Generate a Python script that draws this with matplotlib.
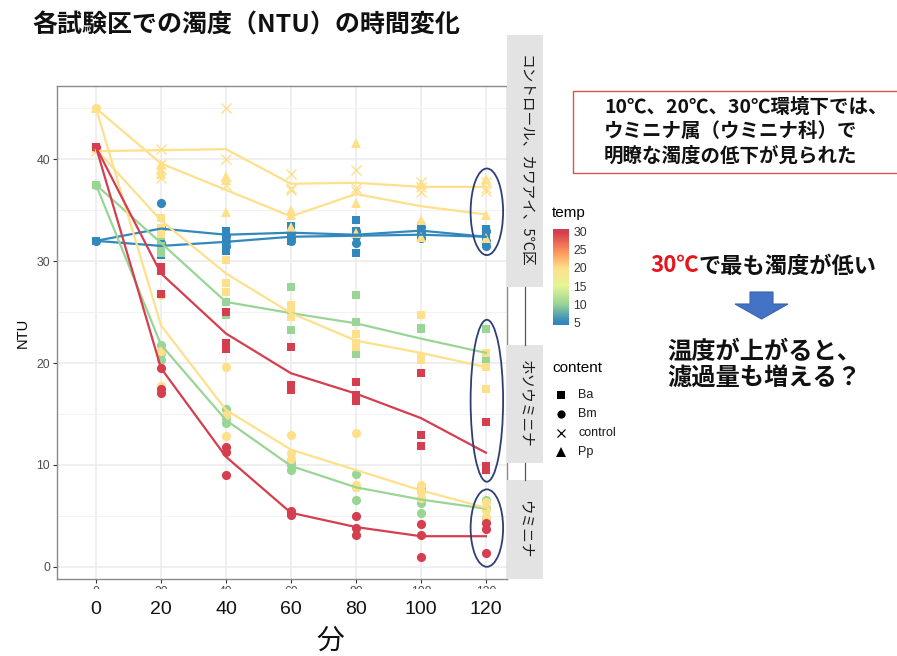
import matplotlib
matplotlib.use("Agg")
import numpy as np
import matplotlib.pyplot as plt
from matplotlib.colors import LinearSegmentedColormap, Normalize
from matplotlib.patches import Ellipse, Rectangle, Polygon
from matplotlib.lines import Line2D
from matplotlib.transforms import blended_transform_factory

JP = ["Noto Sans CJK JP", "DejaVu Sans"]
plt.rcParams["font.family"] = ["Liberation Sans", "Noto Sans CJK JP", "DejaVu Sans"]

W, H = 897, 656


def fx(px):
    return px / W


def fy(py):
    return 1 - py / H


# ---- data ----
TIMES = [0, 20, 40, 60, 80, 100, 120]
YTICKS = [0, 10, 20, 30, 40]
TEMP_TICKS = [5, 10, 15, 20, 25, 30]
CONTENTS = ["Ba", "Bm", "control", "Pp"]

# replicate points per time step
CTRL_PTS = [[40.8], [41.0, 39.5, 38.2], [45.0, 40.0, 37.5], [38.6, 37.2, 37.0],
            [39.0, 37.2, 36.9], [37.8, 36.8, 37.3], [37.8, 37.2, 36.9]]
PP_PTS = [[45.0], [39.5, 39.1, 38.6], [38.4, 38.0, 34.8], [35.0, 34.5, 33.4],
          [41.6, 35.7, 32.8], [37.6, 34.0, 32.4], [38.1, 34.5, 32.3]]
BA5_PTS = [[32.0], [33.0, 31.4, 30.6], [33.0, 32.0, 31.0], [33.5, 32.5, 32.0],
           [34.0, 33.0, 30.8], [33.5, 32.5, 32.3], [33.2, 32.4, 31.7]]
BM5_PTS = [[32.0], [35.7, 33.3, 31.8], [32.5, 32.0, 31.5], [32.8, 32.3, 32.0],
           [33.0, 32.5, 31.8], [33.4, 32.8, 32.3], [33.0, 32.0, 31.5]]
BA10_PTS = [[37.5], [32.5, 31.5, 30.8], [27.0, 26.0, 24.7], [27.5, 24.9, 23.2],
            [26.7, 24.0, 20.9], [23.4, 23.3, 20.4], [23.3, 20.5, 19.8]]
BM10_PTS = [[37.5], [21.8, 21.0, 20.3], [15.5, 14.6, 14.1], [10.3, 10.0, 9.5],
            [9.1, 7.8, 6.6], [7.7, 6.3, 5.3], [6.6, 5.8, 4.8]]
BA20_PTS = [[41.0], [34.2, 33.3, 32.7], [30.1, 27.9, 27.0], [25.7, 25.0, 24.5],
            [22.9, 22.0, 21.6], [24.7, 20.6, 20.3], [21.0, 19.6, 17.5]]
BM20_PTS = [[45.0], [26.7, 21.2, 17.7], [19.6, 14.9, 12.8], [12.9, 11.2, 10.6],
            [13.1, 8.0, 7.8], [8.0, 7.3, 6.8], [6.4, 5.6, 4.9]]
BA30_PTS = [[41.2], [29.4, 29.0, 26.8], [25.0, 22.0, 21.4], [21.6, 17.8, 17.4],
            [18.1, 16.9, 16.3], [19.0, 12.9, 11.9], [14.2, 9.9, 9.5]]
BM30_PTS = [[41.2], [19.5, 17.5, 17.1], [11.8, 11.3, 9.0], [5.5, 5.3, 5.1],
            [5.0, 3.8, 3.1], [4.2, 3.1, 1.0], [4.3, 3.7, 1.4]]

# group mean lines
CTRL_LINE = [40.8, 40.9, 41.0, 37.6, 37.7, 37.3, 37.3]
PP_LINE = [45.0, 39.6, 37.0, 34.4, 36.6, 35.4, 34.6]
BA5_LINE = [32.0, 33.2, 32.6, 32.8, 32.6, 33.0, 32.4]
BM5_LINE = [32.0, 31.5, 31.9, 32.4, 32.5, 32.6, 32.4]
BA10_LINE = [37.5, 31.8, 26.0, 24.9, 23.9, 22.4, 21.0]
BM10_LINE = [37.5, 21.8, 14.4, 9.9, 7.8, 6.6, 5.7]
BA20_LINE = [41.0, 34.0, 28.8, 24.9, 22.2, 21.0, 19.6]
BM20_LINE = [45.0, 23.7, 15.4, 11.5, 9.5, 7.5, 5.8]
BA30_LINE = [41.2, 28.8, 22.9, 19.0, 17.0, 14.6, 11.2]
BM30_LINE = [41.2, 19.5, 10.8, 5.3, 3.9, 3.0, 3.0]

# (content, temp, points, line) in drawing order
GROUPS = [
    ("Bm", 5, BM5_PTS, BM5_LINE), ("Ba", 5, BA5_PTS, BA5_LINE),
    ("Bm", 10, BM10_PTS, BM10_LINE), ("Ba", 10, BA10_PTS, BA10_LINE),
    ("Bm", 20, BM20_PTS, BM20_LINE), ("Ba", 20, BA20_PTS, BA20_LINE),
    ("control", 20, CTRL_PTS, CTRL_LINE), ("Pp", 20, PP_PTS, PP_LINE),
    ("Bm", 30, BM30_PTS, BM30_LINE), ("Ba", 30, BA30_PTS, BA30_LINE),
]

MARKERS = {"Ba": ("s", 6.3), "Bm": ("o", 6.6), "control": ("x", 7.0), "Pp": ("^", 7.6)}
# spectral-like ramp, 5 -> 30
RAMP = ["#3288BD", "#99D594", "#E6F598", "#FEE08B", "#FC8D59", "#D53E4F"]
cmap = LinearSegmentedColormap.from_list("spectral_ramp", RAMP)
norm = Normalize(vmin=5, vmax=30)

fig = plt.figure(figsize=(W / 100, H / 100), dpi=100, facecolor="white")
ax = fig.add_axes([fx(57), fy(579), fx(507) - fx(57), (579 - 86) / H])
ax.set_xlim(-12, 126.5)
ax.set_ylim(-1.2, 47.2)

for content, temp, pts, line in GROUPS:
    col = cmap(norm(temp))
    mk, ms = MARKERS[content]
    for t, vals in zip(TIMES, pts):
        ax.plot([t] * len(vals), vals, linestyle="none", marker=mk, ms=ms, color=col,
                mew=1.0 if mk == "x" else 0, zorder=2)
for content, temp, pts, line in GROUPS:
    ax.plot(TIMES, line, color=cmap(norm(temp)), lw=1.6, zorder=3)

# panel styling (theme_bw-like)
ax.set_xticks(TIMES)
ax.set_yticks(YTICKS)
ax.set_yticks([5, 15, 25, 35, 45], minor=True)
ax.grid(True, which="major", color="#ebebeb", lw=1.1)
ax.grid(True, which="minor", axis="y", color="#f2f2f2", lw=0.7)
ax.set_axisbelow(True)
for s in ax.spines.values():
    s.set_color("#8a8a8a")
    s.set_linewidth(1.0)
ax.tick_params(axis="both", which="major", length=3, color="#333333",
               labelsize=8.8, labelcolor="#4d4d4d", pad=2)
ax.tick_params(axis="y", which="minor", length=0)
ax.set_ylabel("NTU", fontsize=10.5, color="black", labelpad=5)

# slide overlay: hide original x labels, put larger ones below
fig.add_artist(Rectangle((0, fy(602)), fx(520), (602 - 589) / H, transform=fig.transFigure,
                         facecolor="white", edgecolor="none", zorder=10))
btr = blended_transform_factory(ax.transData, fig.transFigure)
for t in TIMES:
    fig.text(t, fy(610), str(t), transform=btr, ha="center", va="center",
             fontsize=14, color="#111111", zorder=11)
fig.text(fx(330), fy(641), "分", ha="center", va="center", fontsize=20,
         family=JP, color="#111111", zorder=11)

# title
fig.text(fx(32), fy(25), "各試験区での濁度（NTU）の時間変化", ha="left", va="center",
         fontsize=18, weight="bold", family=JP, color="#111111")

# facet strips on the right
STRIPS = [(35, 287, "コントロール、カワアイ、5℃区"), (345, 463, "ホソウミニナ"), (480, 579, "ウミニナ")]
for top, bot, label in STRIPS:
    fig.add_artist(Rectangle((fx(507), fy(bot)), fx(543) - fx(507), (bot - top) / H,
                             transform=fig.transFigure, facecolor="#e3e3e3", edgecolor="none"))
    fig.text(fx(525), fy((top + bot) / 2), label, rotation=270, ha="center", va="center",
             fontsize=10.5, family=JP, color="#1a1a1a")
for y0, y1 in [(287, 345), (463, 480)]:
    fig.add_artist(Line2D([fx(525), fx(525)], [fy(y0), fy(y1)], transform=fig.transFigure,
                          color="#555555", lw=0.9))

# ellipses marking 120-minute values
for cy, h in [(34.85, 8.5), (16.3, 15.9), (3.8, 7.6)]:
    ax.add_patch(Ellipse((120.3, cy), 10.0, h, facecolor="none", edgecolor="#2e3f73",
                         lw=1.3, zorder=5, clip_on=False))

# colour legend
fig.text(fx(552), fy(213), "temp", ha="left", va="center", fontsize=11, color="black")
cax = fig.add_axes([fx(553), fy(325), fx(569) - fx(553), (325 - 229) / H])
lo, hi = 4.17, 30.83
grad = np.linspace(lo, hi, 256).reshape(-1, 1)
cax.imshow(grad, cmap=cmap, norm=norm, aspect="auto", origin="lower", extent=(0, 1, lo, hi))
cax.set_xticks([])
cax.set_ylim(lo, hi)
cax.yaxis.tick_right()
cax.set_yticks(TEMP_TICKS)
cax.tick_params(axis="y", length=0, labelsize=8.8, labelcolor="#333333", pad=3)
for s in cax.spines.values():
    s.set_visible(False)

# shape legend
fig.text(fx(552), fy(368), "content", ha="left", va="center", fontsize=11, color="black")
for i, c in enumerate(CONTENTS):
    yy = 395 + i * 19
    mk, ms = MARKERS[c]
    fig.add_artist(Line2D([fx(561)], [fy(yy)], transform=fig.transFigure, marker=mk,
                          ms=ms * 0.9, color="black", mew=0.9 if mk == "x" else 0, linestyle="none"))
    fig.text(fx(578), fy(yy), c, ha="left", va="center", fontsize=9, color="#1a1a1a")

# annotations
fig.add_artist(Rectangle((fx(573), fy(173)), fx(900) - fx(573), (173 - 91) / H,
                         transform=fig.transFigure, facecolor="white", edgecolor="#d9534f", lw=1.0))
NOTE = ["10℃、20℃、30℃環境下では、", "ウミニナ属（ウミニナ科）で", "明瞭な濁度の低下が見られた"]
for i, s in enumerate(NOTE):
    fig.text(fx(604), fy(107 + i * 24.5), s, ha="left", va="center", fontsize=14,
             weight="bold", family=JP, color="#111111")

renderer = fig.canvas.get_renderer()
t1 = fig.text(fx(650), fy(266), "30℃", ha="left", va="center", fontsize=16,
              weight="bold", family=JP, color="#e8141b")
bb = t1.get_window_extent(renderer)
fig.text(bb.x1 / W, fy(266), "で最も濁度が低い", ha="left", va="center", fontsize=16,
         weight="bold", family=JP, color="#111111")

arrow = [(750, 292), (773, 292), (773, 304), (788, 304), (761.5, 319), (735, 304), (750, 304)]
fig.add_artist(Polygon([(fx(a), fy(b)) for a, b in arrow], closed=True, transform=fig.transFigure,
                       facecolor="#4472c4", edgecolor="#3a63ad", lw=0.8))
fig.text(fx(667), fy(352), "温度が上がると、", ha="left", va="center", fontsize=17.5,
         weight="bold", family=JP, color="#111111")
fig.text(fx(667), fy(378), "濾過量も増える？", ha="left", va="center", fontsize=17.5,
         weight="bold", family=JP, color="#111111")

fig.savefig("out.png", dpi=100, facecolor="white")
